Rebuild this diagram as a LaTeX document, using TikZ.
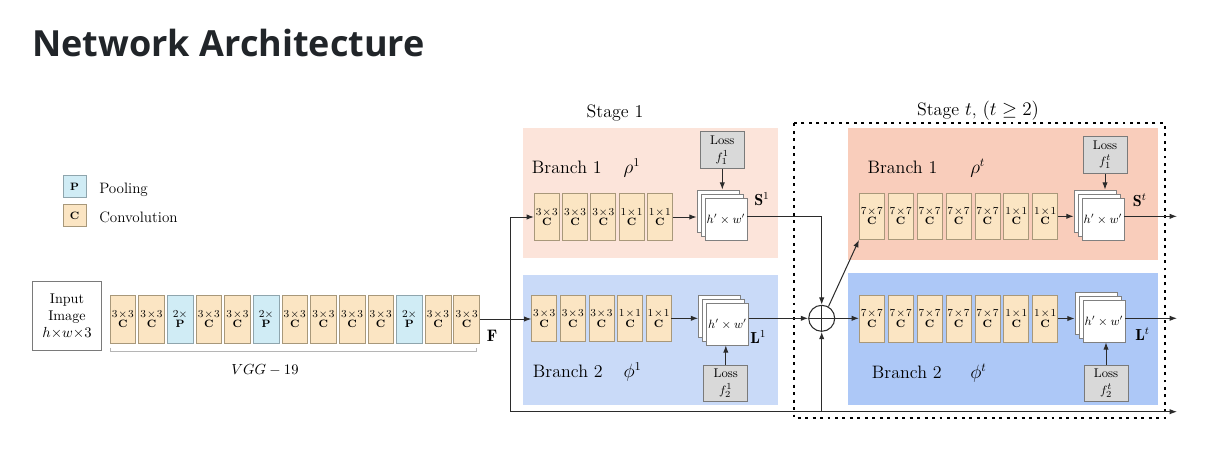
\documentclass[tikz,border=0pt]{standalone}
\usepackage{fontspec}
\newfontfamily\titlefont{Open Sans}
\usetikzlibrary{arrows.meta,calc}
\definecolor{linec}{HTML}{2B2B2B}
\definecolor{cfill}{HTML}{FBE5C3}
\definecolor{cbord}{HTML}{A8987A}
\definecolor{pfill}{HTML}{D0ECF5}
\definecolor{pbord}{HTML}{8FA5AD}
\definecolor{lossf}{HTML}{D9D9D9}
\definecolor{lossb}{HTML}{7A7A7A}
\definecolor{sheetb}{HTML}{808080}
\definecolor{inb}{HTML}{7A7A7A}
\definecolor{bracec}{HTML}{B5B5B5}
\definecolor{pinkA}{HTML}{FCE4DA}
\definecolor{pinkB}{HTML}{F9CDBB}
\definecolor{blueA}{HTML}{C9DAF8}
\definecolor{blueB}{HTML}{ADC8F7}
\definecolor{titlec}{HTML}{212529}
\newcommand\mx{\mskip1.5mu{\times}\mskip1.5mu}
\begin{document}
\begin{tikzpicture}[x=0.75pt,y=-0.75pt,
  arr/.style={draw=linec, line width=0.75pt, -{Latex[length=5.5pt,width=4pt]}},
  cbox/.style={draw=cbord, fill=cfill, line width=0.5pt, inner sep=0pt, align=center, font=\fontsize{8}{9}\selectfont},
  vgg/.style={cbox, minimum width=19.3pt, minimum height=36pt},
  pbox/.style={vgg, draw=pbord, fill=pfill},
  sbox/.style={cbox, minimum width=18.75pt, minimum height=35pt},
  sheet/.style={draw=sheetb, fill=white, line width=0.5pt, minimum size=31.5pt, inner sep=0pt, font=\fontsize{9}{10}\selectfont},
  loss/.style={draw=lossb, fill=lossf, line width=0.5pt, minimum width=33pt, minimum height=27.7pt, inner sep=0pt, align=center, font=\fontsize{9.5}{12.5}\selectfont},
  big/.style={font=\fontsize{13.5}{16}\selectfont, inner sep=0pt},
  lab/.style={font=\fontsize{12}{14}\selectfont, inner sep=0pt, anchor=base west},
  frame/.style={draw=black, line width=1.6pt, dash pattern=on 2.2pt off 3.4pt}
]
\useasboundingbox (0,0) rectangle (1218,457);
\fill[white] (0,0) rectangle (1218,457);

% title
\node[anchor=base west, inner sep=0, font=\titlefont\bfseries\fontsize{27}{32}\selectfont, text=titlec] (title) at (32,56) {Network Architecture};

% legend
\node[pbox, minimum width=17pt, minimum height=16.5pt, font=\fontsize{8}{9}\selectfont\bfseries] (legP) at (74.6,186.7) {P};
\node[vgg, minimum width=17pt, minimum height=16.5pt, font=\fontsize{8}{9}\selectfont\bfseries] (legC) at (74.6,215.5) {C};
\node[anchor=base west, inner sep=0, font=\fontsize{11.3}{13}\selectfont] (legPt) at (99,193.3) {Pooling};
\node[anchor=base west, inner sep=0, font=\fontsize{11.3}{13}\selectfont] (legCt) at (99,222.7) {Convolution};

% input
\node[draw=inb, line width=0.6pt, minimum width=52pt, minimum height=52pt, align=center, font=\fontsize{10.6}{12.5}\selectfont, inner sep=0pt] (input) at (67,316.2) {Input\\Image\\$h{\times}w{\times}3$};

% VGG
\foreach \i/\s/\t/\b in {0/vgg/3\mx3/C,1/vgg/3\mx3/C,2/pbox/2{\times}/P,3/vgg/3\mx3/C,4/vgg/3\mx3/C,5/pbox/2{\times}/P,6/vgg/3\mx3/C,7/vgg/3\mx3/C,8/vgg/3\mx3/C,9/vgg/3\mx3/C,10/pbox/2{\times}/P,11/vgg/3\mx3/C,12/vgg/3\mx3/C}
  \node[\s] (v\i) at ({122.85+28.65*\i},319) {$\t$\\[-1pt]\textbf{\b}};
\draw[bracec, line width=0.6pt] (110,347.5) -- (110,351.7) -- (476,351.7) -- (476,347.5);
\node[font=\fontsize{11}{13}\selectfont, inner sep=0pt] (vgglab) at (265,370) {$VGG-19$};
\node[anchor=base west, inner sep=0pt, font=\fontsize{12.5}{14}\selectfont] (F) at (486.7,341.7) {$\mathbf{F}$};

% regions
\fill[pinkA] (522.7,127.7) rectangle (778.3,258.3);
\fill[blueA] (523,275) rectangle (777.5,405);
\fill[pinkB] (848.3,128.3) rectangle (1158.3,260);
\fill[blueB] (848.3,273.3) rectangle (1158.3,405);
\draw[frame] (794,123.3) rectangle (1165,418.3);

% stage labels
\node[big, anchor=base] (stage1) at (615,117.3) {Stage 1};
\node[big, anchor=base] (staget) at (978,115) {Stage $t$, $(t\geq 2)$};

% branch labels
\node[big, anchor=base west] (br11) at (531.7,173.3) {Branch 1};
\node[big, anchor=base west] (rho1) at (623.3,173.3) {$\rho^1$};
\node[big, anchor=base west] (br12) at (532.7,377.3) {Branch 2};
\node[big, anchor=base west] (phi1) at (623.3,377.3) {$\phi^1$};
\node[big, anchor=base west] (brt1) at (867.3,173.3) {Branch 1};
\node[big, anchor=base west] (rhot) at (970,173.3) {$\rho^t$};
\node[big, anchor=base west] (brt2) at (871.7,378.3) {Branch 2};
\node[big, anchor=base west] (phit) at (970,378.3) {$\phi^t$};

% stage 1 boxes
\foreach \i/\t in {1/3\mx3,2/3\mx3,3/3\mx3,4/1\mx1,5/1\mx1}{
  \node[sbox] (a\i) at ({546.8+28.25*(\i-1)},217) {$\t$\\[-1pt]\textbf{C}};
  \node[sbox] (b\i) at ({544.2+28.6*(\i-1)},318.3) {$\t$\\[-1pt]\textbf{C}};
}
% stage t boxes
\foreach \i/\t in {1/7\mx7,2/7\mx7,3/7\mx7,4/7\mx7,5/7\mx7,6/1\mx1,7/1\mx1}{
  \node[sbox] (ta\i) at ({871.8+28.9*(\i-1)},216.3) {$\t$\\[-1pt]\textbf{C}};
  \node[sbox] (tb\i) at ({871.8+28.9*(\i-1)},318.5) {$\t$\\[-1pt]\textbf{C}};
}

% stacks
\node[sheet] (s1a) at (718,211) {};
\node[sheet] (s1b) at (722,215) {};
\node[sheet] (s1c) at (726,219) {$h'\times w'$};
\node[sheet] (l1a) at (719.5,316) {};
\node[sheet] (l1b) at (723.5,320) {};
\node[sheet] (l1c) at (727.5,324) {$h'\times w'$};
\node[sheet] (sta) at (1095,211) {};
\node[sheet] (stb) at (1099,215) {};
\node[sheet] (stc) at (1103,219) {$h'\times w'$};
\node[sheet] (lta) at (1096,313) {};
\node[sheet] (ltb) at (1100,317) {};
\node[sheet] (ltc) at (1104,321) {$h'\times w'$};

% losses
\node[loss] (lossS1) at (722.3,150) {Loss\\$f_1^1$};
\node[loss] (lossL1) at (725.8,383.3) {Loss\\$f_2^1$};
\node[loss] (lossSt) at (1105,154.7) {Loss\\$f_1^t$};
\node[loss] (lossLt) at (1106,383.3) {Loss\\$f_2^t$};

% output labels
\node[lab] (S1) at (754,205.5) {$\mathbf{S}^1$};
\node[lab] (L1) at (750,343) {$\mathbf{L}^1$};
\node[lab] (St) at (1132.7,206.7) {$\mathbf{S}^t$};
\node[lab] (Lt) at (1135,340) {$\mathbf{L}^t$};

% sum
\node[draw=linec, line width=0.8pt, circle, minimum size=19.5pt, inner sep=0pt,
  path picture={\draw[linec, line width=0.6pt] (path picture bounding box.north) -- (path picture bounding box.south) (path picture bounding box.west) -- (path picture bounding box.east);}] (sum) at (821.7,318.3) {};

% coordinates
\coordinate (trunkB) at (510,411.7);
\coordinate (outB) at (1177,411.7);
\coordinate (outS) at (1177,217);
\coordinate (outL) at (1177,318);

% connectors
\draw[arr] (v12.east) -- (v12.east -| b1.west);
\draw[arr] (trunkB) |- (a1.west);
\draw[arr] (trunkB) -- (outB);
\draw[arr] (sum.south |- trunkB) -- (sum.south);
\draw[arr] (a5.east) -- (a5.east -| s1a.west);
\draw[arr] (b5.east) -- (b5.east -| l1a.west);
\draw[arr] (lossS1.south) -- (lossS1.south |- s1a.north);
\draw[arr] (lossL1.north) -- (lossL1.north |- l1c.south);
\draw[arr] ([yshift=2pt]s1c.east) -| (sum.north);
\draw[arr] (sum.west -| l1c.east) -- (sum.west);
\draw[arr] (sum.60) -- (ta1.south west);
\draw[arr] (sum.east) -- (sum.east -| tb1.west);
\draw[arr] (ta7.east) -- (ta7.east -| sta.west);
\draw[arr] (tb7.east) -- (tb7.east -| lta.west);
\draw[arr] (lossSt.south) -- (lossSt.south |- sta.north);
\draw[arr] (lossLt.north) -- (lossLt.north |- ltc.south);
\draw[arr] ([yshift=2pt]stc.east) -- ([yshift=2pt]stc.east -| outS);
\draw[arr] (sum.east -| ltc.east) -- (sum.east -| outL);
\end{tikzpicture}
\end{document}
